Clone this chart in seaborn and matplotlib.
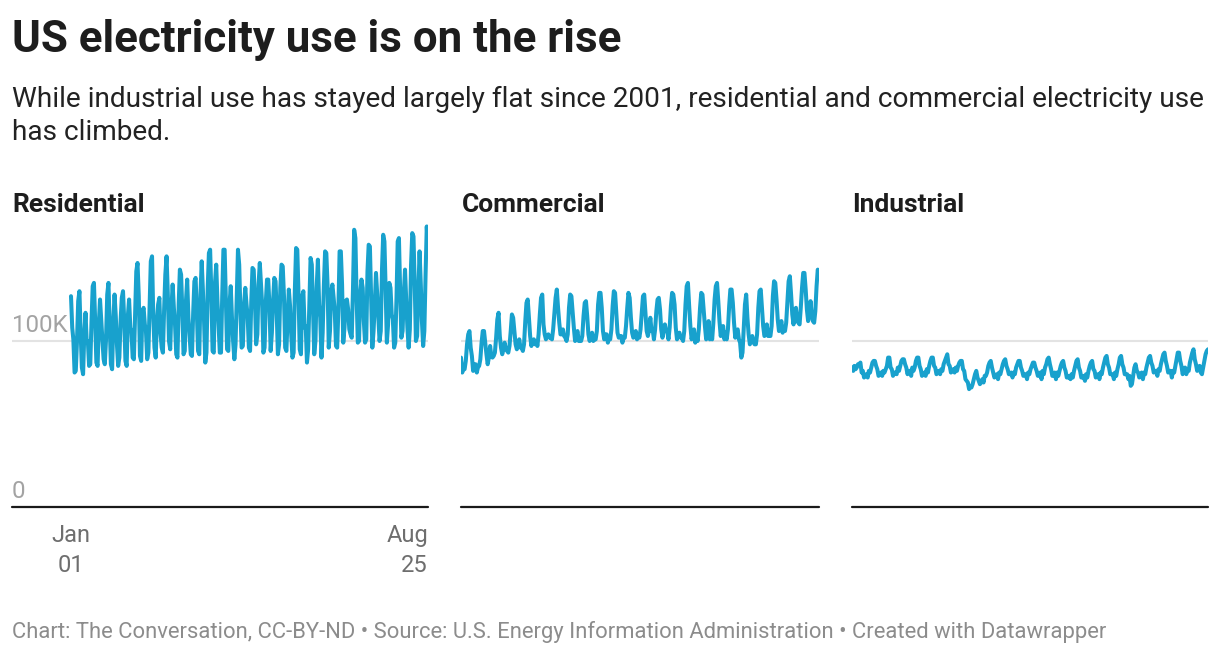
import pandas as pd
import matplotlib
matplotlib.use("Agg")
import matplotlib.pyplot as plt
import matplotlib.dates as mdates
import matplotlib.transforms as mtransforms
import seaborn as sns

# Monthly US retail electricity sales (thousand million kWh), Jan 2001 - Aug 2025
first_month = "2001-01-01"
last_month = "2025-08-01"

residential = [
    127, 108, 101, 81, 82, 100, 124, 130, 105, 84, 80, 104,   # 2001
    117, 99, 100, 85, 86, 112, 133, 135, 112, 87, 85, 110,    # 2002
    125, 112, 101, 89, 86, 101, 128, 135, 110, 86, 83, 112,   # 2003
    128, 115, 98, 85, 90, 112, 126, 130, 112, 88, 85, 115,    # 2004
    125, 108, 106, 90, 89, 116, 142, 147, 127, 91, 88, 118,   # 2005
    120, 110, 106, 89, 93, 121, 148, 151, 115, 96, 90, 112,   # 2006
    122, 126, 105, 96, 93, 119, 140, 151, 129, 100, 95, 119,  # 2007
    134, 120, 110, 92, 90, 122, 143, 140, 118, 92, 94, 124,   # 2008
    137, 114, 104, 92, 91, 117, 136, 138, 117, 94, 92, 128,   # 2009
    148, 130, 112, 87, 93, 132, 153, 155, 128, 94, 93, 135,   # 2010
    146, 124, 110, 93, 93, 127, 155, 155, 124, 95, 94, 122,   # 2011
    133, 114, 100, 89, 98, 126, 155, 146, 117, 96, 97, 122,   # 2012
    132, 122, 115, 96, 94, 124, 144, 143, 124, 98, 104, 134,  # 2013
    147, 134, 122, 93, 96, 123, 137, 137, 121, 94, 105, 124,  # 2014
    138, 136, 118, 92, 98, 132, 146, 145, 127, 96, 94, 114,   # 2015
    131, 121, 104, 90, 93, 131, 156, 155, 128, 95, 92, 127,   # 2016
    130, 108, 109, 87, 95, 124, 150, 146, 118, 92, 100, 132,  # 2017
    149, 122, 114, 90, 105, 134, 154, 153, 134, 96, 106, 130, # 2018
    134, 126, 118, 97, 96, 120, 154, 154, 134, 99, 108, 124,  # 2019
    125, 119, 107, 104, 102, 131, 167, 162, 126, 99, 100, 129, # 2020
    137, 132, 112, 99, 101, 142, 158, 157, 126, 96, 106, 122, # 2021
    141, 128, 114, 100, 106, 143, 164, 160, 131, 99, 110, 135, # 2022
    132, 116, 113, 96, 99, 126, 160, 162, 130, 102, 106, 128, # 2023
    143, 124, 108, 96, 107, 146, 165, 163, 134, 100, 103, 130, # 2024
    154, 134, 112, 97, 106, 140, 169, 155,                    # 2025
]

commercial = [
    90, 81, 84, 83, 88, 98, 104, 106, 96, 91, 82, 86,         # 2001
    86, 81, 84, 85, 89, 99, 106, 106, 99, 92, 86, 90,         # 2002
    97, 91, 90, 91, 93, 102, 113, 117, 103, 96, 92, 95,       # 2003
    99, 95, 94, 93, 97, 106, 116, 114, 106, 98, 95, 97,       # 2004
    101, 96, 96, 94, 98, 112, 123, 125, 114, 103, 97, 100,    # 2005
    101, 98, 100, 97, 104, 116, 126, 128, 110, 104, 101, 103, # 2006
    104, 102, 102, 101, 107, 117, 126, 131, 120, 111, 104, 104, # 2007
    107, 103, 102, 100, 104, 120, 128, 127, 117, 108, 100, 104, # 2008
    106, 100, 100, 100, 103, 115, 123, 124, 115, 104, 100, 103, # 2009
    105, 100, 101, 101, 106, 122, 129, 129, 120, 106, 101, 104, # 2010
    104, 99, 102, 101, 107, 121, 130, 129, 117, 105, 102, 103,  # 2011
    103, 99, 102, 102, 109, 120, 129, 126, 114, 105, 102, 103,  # 2012
    106, 101, 104, 102, 107, 117, 127, 128, 117, 106, 103, 107, # 2013
    114, 106, 107, 101, 107, 118, 125, 126, 119, 107, 102, 106, # 2014
    110, 106, 106, 101, 108, 121, 129, 128, 122, 108, 101, 104, # 2015
    105, 102, 102, 100, 106, 122, 133, 135, 121, 109, 101, 105, # 2016
    107, 99, 103, 100, 107, 120, 129, 128, 118, 109, 101, 105,  # 2017
    112, 101, 104, 101, 111, 125, 133, 135, 124, 112, 103, 106, # 2018
    109, 101, 105, 101, 107, 121, 131, 131, 123, 111, 102, 106, # 2019
    107, 101, 99, 90, 93, 108, 122, 128, 114, 104, 98, 101,     # 2020
    103, 99, 98, 98, 104, 120, 130, 131, 120, 109, 103, 104,    # 2021
    110, 103, 104, 103, 109, 127, 136, 135, 125, 113, 106, 109, # 2022
    112, 105, 108, 106, 111, 124, 136, 139, 128, 116, 110, 118, # 2023
    120, 112, 111, 110, 120, 132, 141, 141, 131, 119, 112, 117, # 2024
    124, 115, 112, 111, 118, 133, 143, 141,                     # 2025
]

industrial = [
    84, 82, 85, 83, 84, 86, 86, 87, 81, 82, 78, 79,   # 2001
    80, 78, 82, 81, 84, 87, 88, 88, 85, 83, 79, 80,   # 2002
    81, 79, 82, 81, 83, 85, 90, 90, 84, 83, 79, 81,   # 2003
    81, 80, 84, 82, 85, 88, 89, 89, 86, 84, 80, 82,   # 2004
    82, 79, 84, 82, 84, 88, 90, 90, 85, 83, 79, 80,   # 2005
    81, 79, 83, 81, 85, 88, 90, 90, 85, 84, 80, 81,   # 2006
    82, 80, 83, 82, 86, 88, 90, 92, 86, 85, 81, 82,   # 2007
    83, 81, 84, 82, 85, 87, 88, 88, 83, 82, 77, 76,   # 2008
    75, 71, 73, 72, 74, 77, 80, 82, 78, 76, 74, 75,   # 2009
    77, 75, 79, 79, 81, 85, 87, 88, 84, 81, 78, 79,   # 2010
    80, 77, 81, 80, 83, 86, 88, 89, 85, 83, 80, 80,   # 2011
    81, 78, 81, 80, 84, 86, 88, 88, 84, 82, 79, 80,   # 2012
    80, 77, 81, 80, 83, 85, 87, 87, 84, 82, 79, 79,   # 2013
    81, 77, 82, 80, 84, 86, 89, 90, 86, 83, 79, 79,   # 2014
    81, 77, 81, 79, 82, 85, 87, 88, 84, 82, 78, 78,   # 2015
    79, 77, 80, 78, 82, 85, 88, 89, 84, 82, 78, 78,   # 2016
    79, 76, 80, 78, 82, 85, 87, 88, 83, 82, 78, 79,   # 2017
    80, 77, 81, 80, 84, 87, 90, 91, 86, 84, 80, 80,   # 2018
    80, 77, 81, 79, 83, 86, 90, 91, 86, 84, 80, 80,   # 2019
    80, 77, 79, 73, 74, 79, 84, 86, 82, 81, 78, 80,   # 2020
    81, 77, 81, 80, 84, 87, 90, 91, 87, 85, 81, 82,   # 2021
    82, 79, 83, 82, 86, 89, 92, 93, 88, 85, 81, 82,   # 2022
    82, 78, 82, 81, 85, 89, 93, 93, 88, 85, 80, 82,   # 2023
    84, 80, 83, 82, 87, 90, 93, 95, 89, 86, 82, 84,   # 2024
    85, 81, 80, 84, 88, 92, 94, 95,                   # 2025
]

sectors = ["Residential", "Commercial", "Industrial"]
series = [residential, commercial, industrial]

title = "US electricity use is on the rise"
subtitle_lines = [
    "While industrial use has stayed largely flat since 2001, residential and commercial electricity use",
    "has climbed.",
]
footer = ("Chart: The Conversation, CC-BY-ND \u2022 Source: U.S. Energy Information Administration "
          "\u2022 Created with Datawrapper")

LINE = "#18a1cd"
W, H = 1220, 654

sns.set_theme(style="white")
plt.rcParams["font.family"] = ["Roboto", "DejaVu Sans"]

dates = pd.date_range(first_month, last_month, freq="MS")
frames = []
for name, vals in zip(sectors, series):
    frames.append(pd.DataFrame({"date": dates, "value": vals, "sector": name}))
df = pd.concat(frames, ignore_index=True)

fig = plt.figure(figsize=(W / 100, H / 100), dpi=100)


def px_axes(left, right, top, bottom):
    return fig.add_axes([left / W, 1 - bottom / H, (right - left) / W, (bottom - top) / H])


def fy(y):
    return 1 - y / H


y_max = 180
base_y = 507
px_per_k = 1.66
top_y = base_y - y_max * px_per_k

panels = [(12, 428), (461, 819), (852, 1208)]
title_x = [12, 462, 852]

d0 = mdates.date2num(dates[0])
d1 = mdates.date2num(dates[-1])

for i, (name, (left, right)) in enumerate(zip(sectors, panels)):
    ax = px_axes(left, right, top_y, base_y)
    sub = df[df["sector"] == name]
    sns.lineplot(data=sub, x="date", y="value", ax=ax, color=LINE,
                 linewidth=2.9, zorder=3, solid_joinstyle="round")
    ax.axhline(100, color="#e3e3e3", lw=1.5, zorder=1)
    ax.axhline(0, color="#1a1a1a", lw=1.6, zorder=4, clip_on=False)
    ax.set_ylim(0, y_max)
    if i == 0:
        # data starts to the right of the y labels
        span = d1 - d0
        ax.set_xlim(d0 - span * 59 / 357, d1)
    else:
        ax.set_xlim(d0, d1)
    ax.set_xticks([])
    ax.set_yticks([])
    ax.set_xlabel("")
    ax.set_ylabel("")
    sns.despine(ax=ax, left=True, bottom=True)
    ax.patch.set_alpha(0)

    fig.text(title_x[i] / W, fy(212), name, fontsize=19, fontweight="bold",
             color="#1d1d1d", va="baseline", ha="left")

    if i == 0:
        # y labels sit above their gridlines
        blend = mtransforms.blended_transform_factory(ax.transAxes, ax.transData)
        ax.text(0, 100 + 9.5 / px_per_k, "100K", transform=blend, fontsize=17.4,
                color="#a3a3a3", va="baseline", ha="left")
        ax.text(0, 0 + 8.5 / px_per_k, "0", transform=blend, fontsize=17.4,
                color="#a3a3a3", va="baseline", ha="left")
        # x labels: first and last month
        xb = mtransforms.blended_transform_factory(ax.transData, fig.transFigure)
        for d, ha, top, bot in [(dates[0], "center", "Jan", "01"),
                                (dates[-1], "right", "Aug", "25")]:
            ax.text(d, fy(542), top, transform=xb, fontsize=17, color="#6e6e6e",
                    ha=ha, va="baseline")
            ax.text(d, fy(572), bot, transform=xb, fontsize=17, color="#6e6e6e",
                    ha=ha, va="baseline")

fig.text(12 / W, fy(52), title, fontsize=31.6, fontweight="bold", color="#1d1d1d",
         va="baseline", ha="left")
for k, line in enumerate(subtitle_lines):
    fig.text(12 / W, fy(107 + 33 * k), line, fontsize=20.2, color="#222222",
             va="baseline", ha="left")
fig.text(12 / W, fy(638), footer, fontsize=15.8, color="#8c8c8c",
         va="baseline", ha="left")

fig.savefig("out.png", dpi=100)
